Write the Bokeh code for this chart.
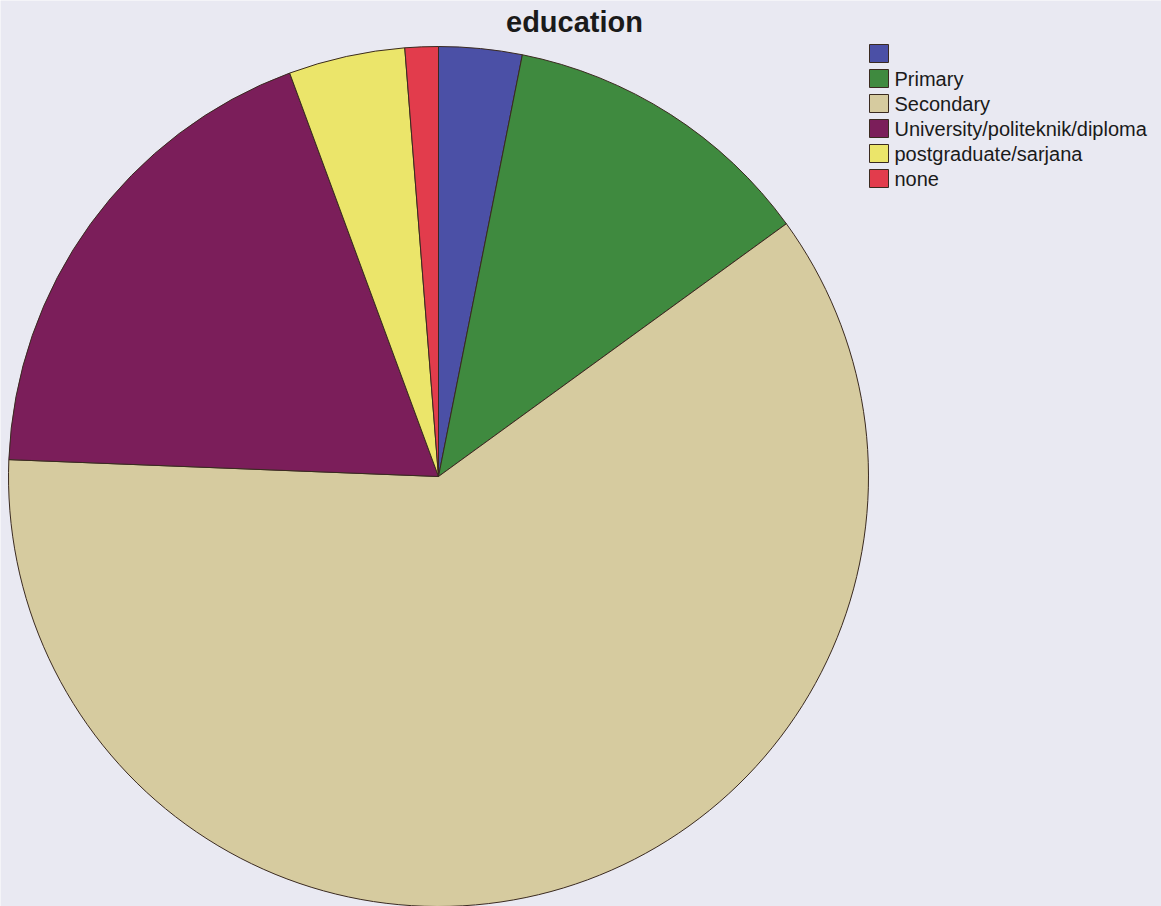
import math
from bokeh.plotting import figure
from bokeh.models import Range1d, ColumnDataSource
from bokeh.core.properties import value
from bokeh.embed import file_html
from bokeh.resources import INLINE

categories = ["", "Primary", "Secondary", "University/politeknik/diploma", "postgraduate/sarjana", "none"]
counts = [5, 19, 97, 30, 7, 2]
colors = ["#4b50a6", "#3f8a3f", "#d6cb9f", "#7b1e5a", "#ebe56a", "#e23c4c"]

W, H = 1161, 906

def Y(y):
    return H - y

total = sum(counts)
starts, ends = [], []
cum = 0
for c in counts:
    starts.append(math.pi / 2 - 2 * math.pi * cum / total)
    cum += c
    ends.append(math.pi / 2 - 2 * math.pi * cum / total)

src = ColumnDataSource(dict(start=starts, end=ends, color=colors, cat=categories))

bg = "#e9e9f2"
p = figure(width=W, height=H, output_backend="svg", toolbar_location=None,
           x_range=Range1d(0, W), y_range=Range1d(0, H),
           min_border=0, background_fill_color=bg, border_fill_color=bg)
p.axis.visible = False
p.grid.visible = False
p.outline_line_color = None

cx, cy, r = 438, Y(476), 430
p.wedge(x=cx, y=cy, radius=r, start_angle="start", end_angle="end", direction="clock",
        fill_color="color", line_color="#3a2a20", line_width=1, source=src)

# title
p.text(x=[574], y=[Y(21)], text=["education"], text_font=value("Liberation Sans"),
       text_font_size="29px", text_font_style="bold", text_align="center",
       text_baseline="alphabetic", text_color="#1a1a1a")

# legend
lx = 878.5
n = len(categories)
lsrc = ColumnDataSource(dict(x=[lx] * n, y=[Y(53 + 25 * i) for i in range(n)], color=colors,
                             tx=[894] * n, ty=[Y(53 + 25 * i) for i in range(n)], cat=categories))
p.rect(x="x", y="y", width=19, height=18, fill_color="color", line_color="#3a2a20",
       line_width=1, source=lsrc)
p.text(x="tx", y="ty", text="cat", text_font=value("Liberation Sans"), text_font_size="20px",
       text_baseline="alphabetic", text_color="#1a1a1a", source=lsrc)

open("out.html", "w").write(file_html(p, INLINE))
